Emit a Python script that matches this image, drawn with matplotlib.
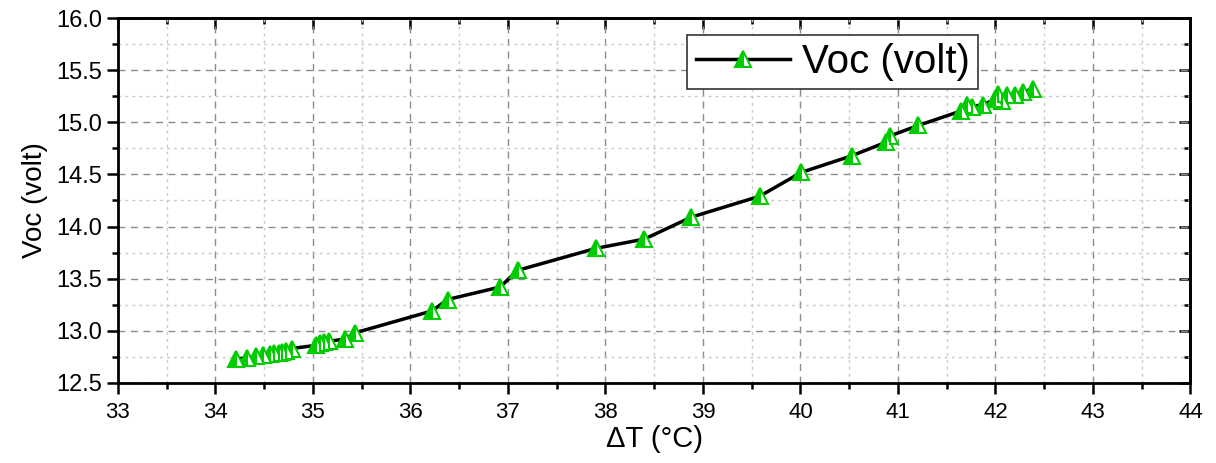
import matplotlib
matplotlib.use("Agg")
import matplotlib.pyplot as plt
from matplotlib.ticker import MultipleLocator, FormatStrFormatter

#
# Data
#

delta_t = [34.21, 34.32, 34.42, 34.49, 34.56, 34.60, 34.65, 34.68, 34.72, 34.78,
           35.03, 35.07, 35.11, 35.16, 35.33, 35.43, 36.22, 36.38, 36.92, 37.10,
           37.90, 38.40, 38.88, 39.58, 40.01, 40.53, 40.88, 40.92, 41.21, 41.65,
           41.71, 41.76, 41.87, 42.00, 42.03, 42.07, 42.12, 42.20, 42.28, 42.38]
voc = [12.73, 12.74, 12.76, 12.77, 12.78, 12.79, 12.79, 12.80, 12.81, 12.83,
       12.86, 12.88, 12.89, 12.90, 12.92, 12.98, 13.19, 13.30, 13.42, 13.58,
       13.79, 13.88, 14.09, 14.29, 14.52, 14.68, 14.81, 14.87, 14.97, 15.11,
       15.17, 15.15, 15.17, 15.22, 15.27, 15.20, 15.26, 15.26, 15.29, 15.32]
series_label = "Voc (volt)"

plt.rcParams['font.family'] = ['Liberation Sans', 'DejaVu Sans']

green = "#00cc00"

fig = plt.figure(figsize=(12.16, 4.63), dpi=100)
ax = fig.add_axes([0.097, 0.173, 0.882, 0.788])

ax.plot(delta_t, voc, color="black", lw=2.5, marker="^", markersize=11,
        markerfacecolor=green, markerfacecoloralt="white", fillstyle="left",
        markeredgecolor=green, markeredgewidth=1.5, label=series_label, zorder=3)

ax.set_xlim(33, 44)
ax.set_ylim(12.5, 16.0)
ax.xaxis.set_major_locator(MultipleLocator(1))
ax.xaxis.set_minor_locator(MultipleLocator(0.5))
ax.yaxis.set_major_locator(MultipleLocator(0.5))
ax.yaxis.set_minor_locator(MultipleLocator(0.25))
ax.yaxis.set_major_formatter(FormatStrFormatter("%.1f"))

# grid: major dashed, minor dotted
ax.grid(which="major", color="#8c8c8c", linestyle=(0, (5, 4)), lw=1.0, zorder=0)
ax.grid(which="minor", color="#c8c8c8", linestyle=(0, (2, 3)), lw=1.0, zorder=0)

# ticks out on left/bottom, in on top/right
ax.tick_params(which="both", direction="out", top=False, right=False, width=1.8)
ax.tick_params(axis="x", labelsize=16, pad=6)
ax.tick_params(axis="y", labelsize=17)
ax.tick_params(which="major", length=8)
ax.tick_params(which="minor", length=4)
for spine in ax.spines.values():
    spine.set_linewidth(2)

axt = ax.secondary_xaxis("top")
axt.xaxis.set_major_locator(MultipleLocator(1))
axt.xaxis.set_minor_locator(MultipleLocator(0.5))
axt.tick_params(which="both", direction="in", width=1.8, labeltop=False)
axt.tick_params(which="major", length=8)
axt.tick_params(which="minor", length=4)
axt.spines["top"].set_linewidth(2)

axr = ax.secondary_yaxis("right")
axr.yaxis.set_major_locator(MultipleLocator(0.5))
axr.yaxis.set_minor_locator(MultipleLocator(0.25))
axr.tick_params(which="both", direction="in", width=1.8, labelright=False)
axr.tick_params(which="major", length=8)
axr.tick_params(which="minor", length=4)
axr.spines["right"].set_linewidth(2)

ax.set_xlabel("\u0394T (\u00b0C)", fontsize=21, labelpad=1)
ax.set_ylabel("Voc (volt)", fontsize=20, labelpad=6)

leg = ax.legend(loc="upper left", bbox_to_anchor=(0.531, 0.953), fontsize=29,
                fancybox=False, edgecolor="#333333", framealpha=1,
                handlelength=2.35, handletextpad=0.3, borderpad=0.2,
                borderaxespad=0, markerscale=1.0)
leg.get_frame().set_linewidth(1.2)

plt.savefig("out.png", dpi=100)
